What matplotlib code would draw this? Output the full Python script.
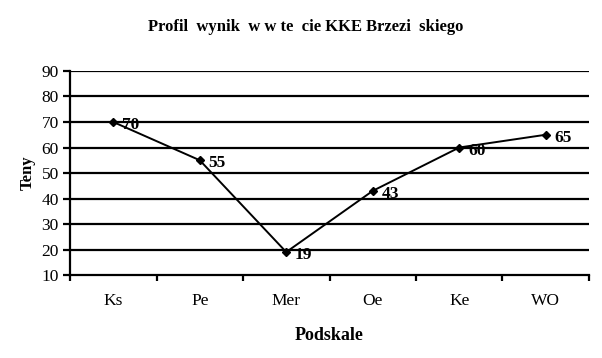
import numpy as np
import matplotlib
matplotlib.use("Agg")
import matplotlib.pyplot as plt
from matplotlib.ticker import FixedLocator, NullFormatter

# DATA

categories = ["Ks", "Pe", "Mer", "Oe", "Ke", "WO"]
scores = [70, 55, 19, 43, 60, 65]
y_ticks = [10, 20, 30, 40, 50, 60, 70, 80, 90]

title = "Profil  wynik  w w te  cie KKE Brzezi  skiego"

plt.rcParams["font.family"] = ["Liberation Serif", "DejaVu Serif"]

fig = plt.figure(figsize=(6.02, 3.58), dpi=100)
ax = fig.add_axes([0.1163, 0.2318, 0.8621, 0.5699])

x = np.arange(len(categories))

# grid lines
for v in y_ticks[1:]:
    ax.axhline(v, color="black", lw=1.6, zorder=1)

ax.plot(x, scores, color="black", lw=1.4, marker="D", markersize=4,
        zorder=3)

for xi, v in zip(x, scores):
    ax.text(xi + 0.1, v - 1.2, str(v), fontsize=12.5, fontweight="bold",
            ha="left", va="center", zorder=4)

ax.set_xlim(-0.5, len(categories) - 0.5)
ax.set_ylim(10, 90)

ax.xaxis.set_major_locator(FixedLocator(np.arange(-0.5, len(categories), 1.0)))
ax.xaxis.set_major_formatter(NullFormatter())
ax.xaxis.set_minor_locator(FixedLocator(x))
ax.set_xticklabels(categories, minor=True)
ax.tick_params(axis="x", which="major", direction="out", length=4, width=1.6)
ax.tick_params(axis="x", which="minor", length=0, pad=13, labelsize=12.5)

ax.set_yticks(y_ticks)
ax.tick_params(axis="y", direction="out", length=5, width=1.6, pad=3,
               labelsize=12.5)

for s in ["top", "right"]:
    ax.spines[s].set_visible(False)
for s in ["left", "bottom"]:
    ax.spines[s].set_linewidth(1.6)

ax.set_xlabel("Podskale", fontsize=13, fontweight="bold", labelpad=13)
ax.set_ylabel("Teny", fontsize=12, fontweight="bold", labelpad=4)

fig.text(0.507, 0.925, title, fontsize=12, fontweight="bold",
         ha="center", va="center")

fig.savefig("out.png", dpi=100)
